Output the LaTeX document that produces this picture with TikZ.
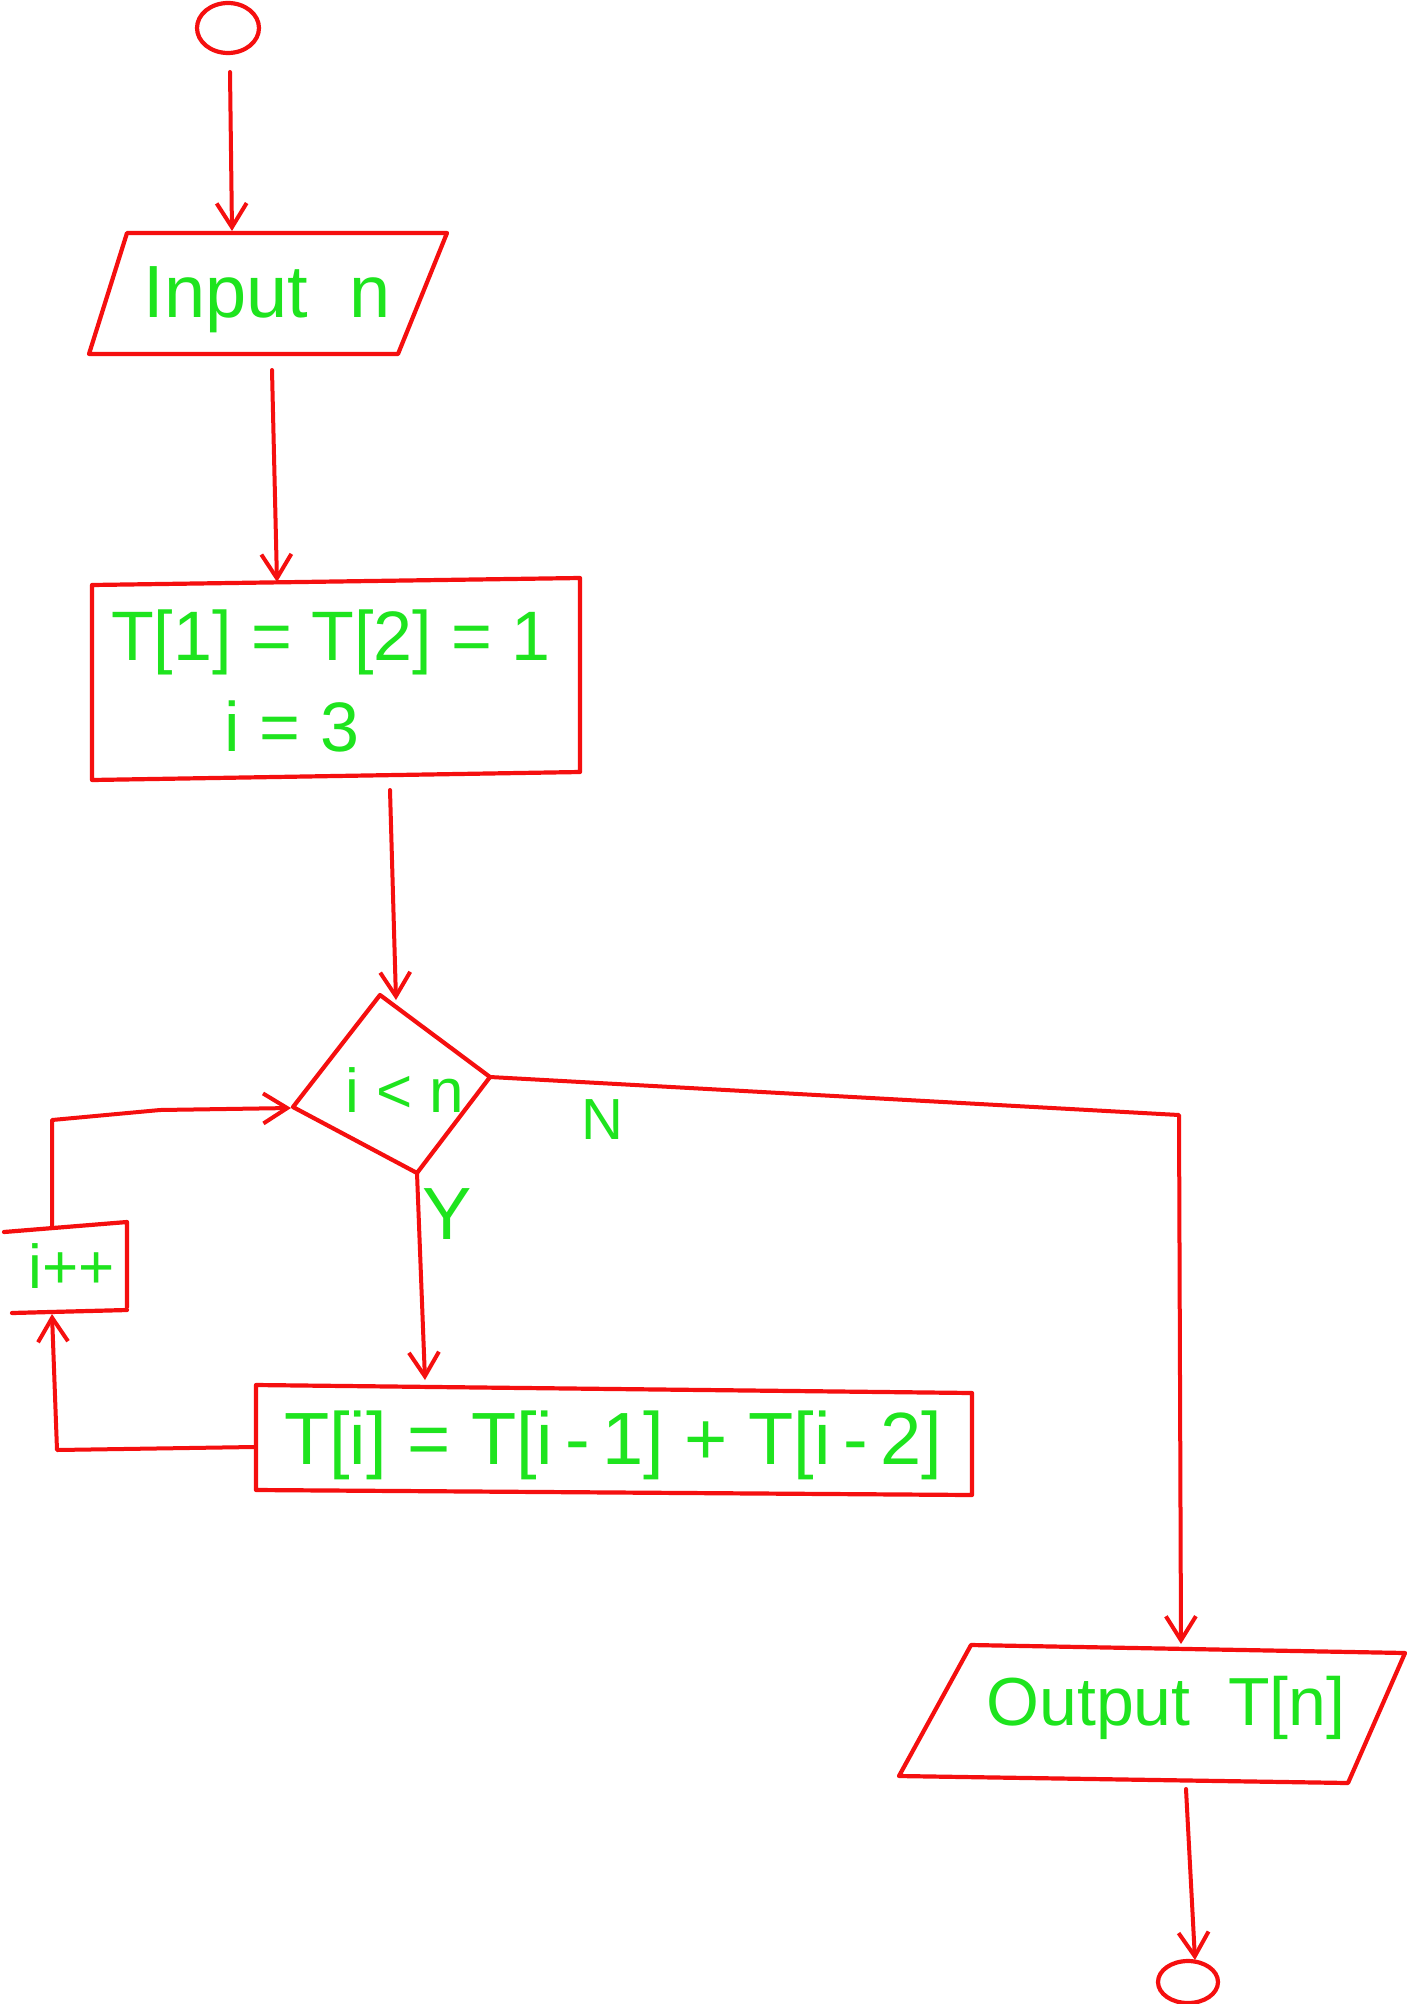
\documentclass[tikz,border=0pt]{standalone}
\usepackage{fontspec}
\setmainfont{Liberation Sans}
\usetikzlibrary{arrows.meta}
\definecolor{pen}{RGB}{245,15,15}
\definecolor{ink}{RGB}{30,228,30}
\begin{document}
\begin{tikzpicture}[x=1pt,y=-1pt,
  outline/.style={draw=pen,line width=4.2pt,line join=round,line cap=round},
  conn/.style={draw=pen,line width=4pt,line cap=round,line join=round,
    -{Straight Barb[length=24pt,width=30pt,line width=4pt]}},
  txt/.style={text=ink,inner sep=0pt,font=\fontsize{#1}{#1}\selectfont},
  txt/.default=72]
\useasboundingbox (0,0) rectangle (1408,2004);
\fill[white] (0,0) rectangle (1408,2004);

% start terminal
\draw[outline] (228,28) ellipse [x radius=31,y radius=25];
\coordinate (startB) at (230,72);

% input
\draw[outline] (127,233) -- (447,233) -- (398,354) -- (89,354) -- cycle;
\node[txt=74] (inp) at (267,300) {Input\ \ n};
\coordinate (inpT) at (232,231);
\coordinate (inpB) at (272,370);

% init
\draw[outline] (92,585) -- (580,578) -- (580,772) -- (92,780) -- cycle;
\node[txt=70] (init1) at (331,642) {T[1] = T[2] = 1};
\node[txt=70] (init2) at (292,726) {i = 3};
\coordinate (initT) at (277,582);
\coordinate (initB) at (390,790);

% decision
\draw[outline] (380,995) -- (490,1077) -- (417,1173) -- (293,1107) -- cycle;
\node[txt=62] (cond) at (405,1090) {i < n};
\coordinate (decT) at (396,1000);
\coordinate (decR) at (490,1077);
\coordinate (decB) at (417,1173);
\coordinate (decL) at (291,1108);
\node[txt=58] (lblN) at (602,1120) {N};
\node[txt=74] (lblY) at (447,1214) {Y};

% body
\draw[outline] (256,1385) -- (972,1393) -- (972,1495) -- (256,1490) -- cycle;
\node[txt=74] (body) at (613,1445) {T[i] = T[i\,-\,1] + T[i\,-\,2]};
\coordinate (bodyT) at (425,1380);
\coordinate (bodyL) at (254,1447);

% increment
\draw[outline] (4,1232) -- (127,1222) -- (127,1307);
\draw[outline] (12,1313) -- (127,1310);
\node[txt=62] (inc) at (72,1266) {i++};
\coordinate (incB) at (52,1314);
\coordinate (incT) at (52,1226);

% output
\draw[outline] (971,1645) -- (1405,1653) -- (1348,1783) -- (899,1776) -- cycle;
\node[txt=68] (outp) at (1166,1708) {Output\ \ T[n]};
\coordinate (outT) at (1181,1644);
\coordinate (outB) at (1186,1789);

% end terminal
\draw[outline] (1188,1982) ellipse [x radius=30,y radius=21];
\coordinate (endT) at (1195,1960);

% connectors
\draw[conn] (startB) -- (inpT);
\draw[conn] (inpB) -- (initT);
\draw[conn] (initB) -- (decT);
\draw[conn] (decB) -- (bodyT);
\draw[conn] (decR) -- (1179,1115) -- (outT);
\draw[conn] (bodyL) -- (57,1450) -- (incB);
\draw[conn] (incT) -- (52,1120) -- (160,1110) -- (decL);
\draw[conn] (outB) -- (endT);
\end{tikzpicture}
\end{document}
